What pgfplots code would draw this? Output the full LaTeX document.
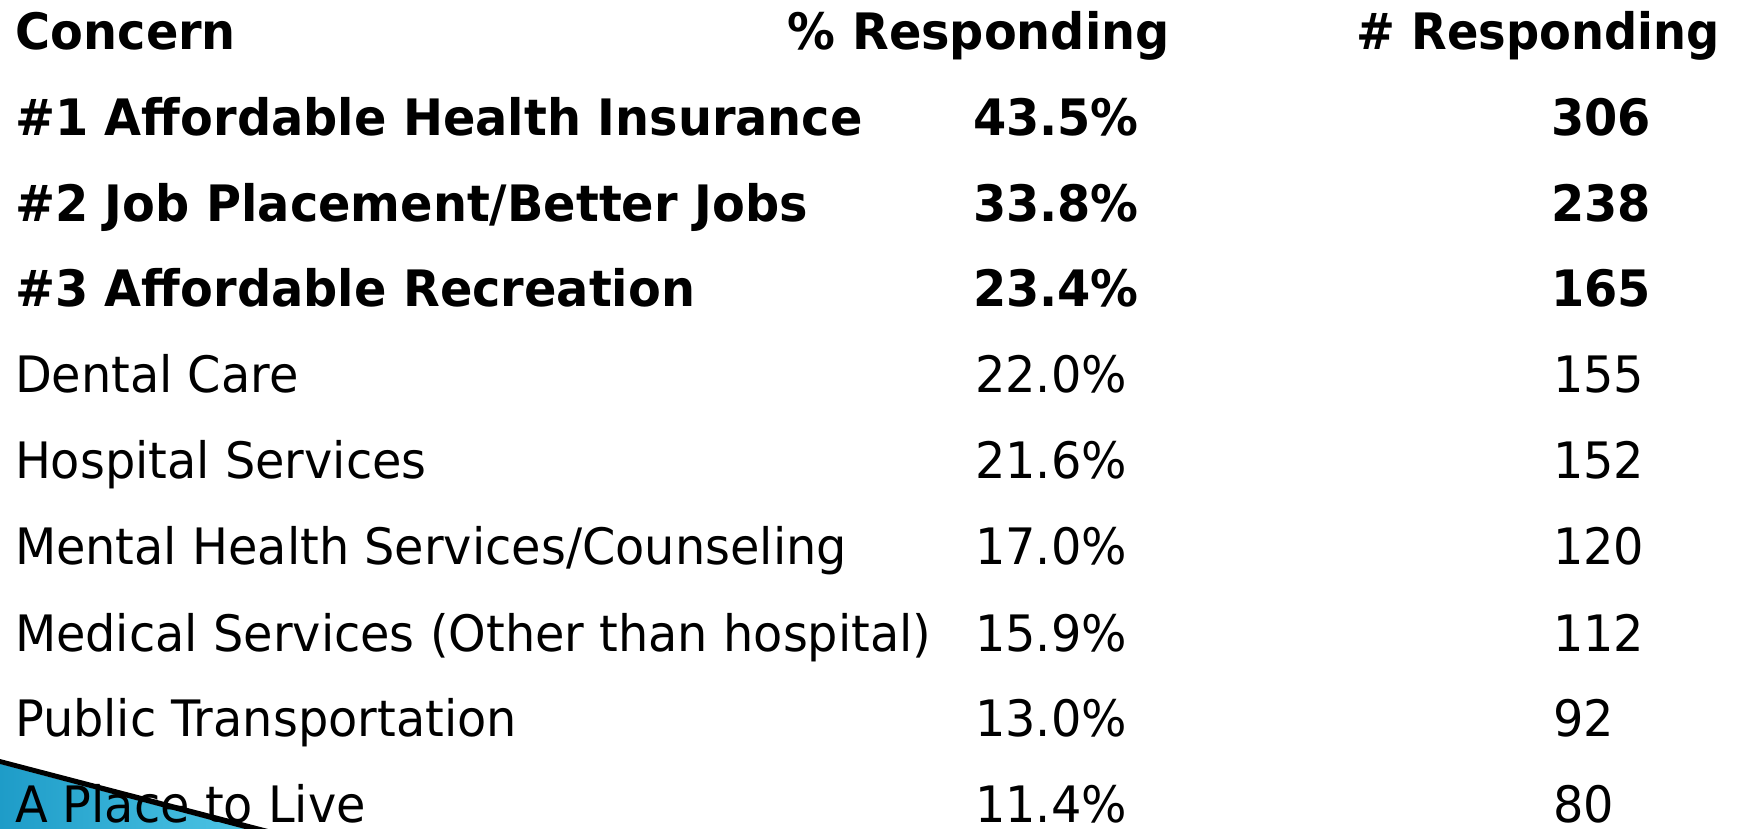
\documentclass[border=0pt]{standalone}
\usepackage{pgfplots}
\pgfplotsset{compat=1.18}
\usepackage{pgfplotstable}
\usepackage{graphicx}
\usepackage{fontspec}
\setmainfont{DejaVu Sans}

\pgfplotstableread[col sep=semicolon]{
y;concern;pct;n
136;\#1 Affordable Health Insurance;43.5;306
222;\#2 Job Placement/Better Jobs;33.8;238
307;\#3 Affordable Recreation;23.4;165
}\topthree

\pgfplotstableread[col sep=semicolon]{
y;concern;pct;n
393;Dental Care;22.0;155
479;Hospital Services;21.6;152
565;Mental Health Services/Counseling;17.0;120
651;Medical Services (Other than hospital);15.9;112
736;Public Transportation;13.0;92
822;A Place to Live;11.4;80
}\others

\definecolor{wedgeblue}{HTML}{1E9CC8}
\definecolor{wedgelight}{HTML}{4CC4E4}
\newcommand{\tall}[1]{\scalebox{1}[1.05]{#1}}

\begin{document}
\begin{tikzpicture}
\begin{axis}[
  hide axis,
  scale only axis,
  width=17.5cm, height=8.29cm,
  xmin=0, xmax=1750, ymin=0, ymax=829,
  y dir=reverse,
  clip=false,
  /pgf/number format/assume math mode=true,
  every node near coord/.append style={anchor=base west, inner sep=0pt, outer sep=0pt, text=black},
  nodes near coords align={anchor=base west},
]
% decorative wedge
\addplot[draw=none, fill=wedgeblue, left color=wedgeblue, right color=wedgelight, forget plot] coordinates {(0,764) (245,829) (0,829) (0,764)};
\addplot[draw=none, fill=black, forget plot] coordinates {(0,759) (268,829) (245,829) (0,764) (0,759)};

% top three (bold)
\addplot[draw=none, mark=none, point meta=explicit symbolic,
  nodes near coords={\tall{\pgfplotspointmeta}},
  every node near coord/.append style={font=\fontsize{13.6}{16}\bfseries}]
  table[x expr=15, y=y, meta=concern] {\topthree};
\addplot[draw=none, mark=none, point meta=explicit,
  nodes near coords={\tall{\pgfmathprintnumber[fixed,fixed zerofill,precision=1]{\pgfplotspointmeta}\%}},
  every node near coord/.append style={font=\fontsize{13.6}{16}\bfseries}]
  table[x expr=973, y=y, meta=pct] {\topthree};
\addplot[draw=none, mark=none, point meta=explicit,
  nodes near coords={\tall{\pgfmathprintnumber[fixed,precision=0]{\pgfplotspointmeta}}},
  every node near coord/.append style={font=\fontsize{13.6}{16}\bfseries}]
  table[x expr=1551, y=y, meta=n] {\topthree};

% others (regular)
\addplot[draw=none, mark=none, point meta=explicit symbolic,
  nodes near coords={\tall{\pgfplotspointmeta}},
  every node near coord/.append style={font=\fontsize{13.6}{16}\selectfont}]
  table[x expr=15, y=y, meta=concern] {\others};
\addplot[draw=none, mark=none, point meta=explicit,
  nodes near coords={\tall{\pgfmathprintnumber[fixed,fixed zerofill,precision=1]{\pgfplotspointmeta}\%}},
  every node near coord/.append style={font=\fontsize{13.6}{16}\selectfont}]
  table[x expr=975, y=y, meta=pct] {\others};
\addplot[draw=none, mark=none, point meta=explicit,
  nodes near coords={\tall{\pgfmathprintnumber[fixed,precision=0]{\pgfplotspointmeta}}},
  every node near coord/.append style={font=\fontsize{13.6}{16}\selectfont}]
  table[x expr=1553, y=y, meta=n] {\others};

% header
\node[anchor=base west, inner sep=0pt, font=\fontsize{13.6}{16}\bfseries] at (axis cs:15,50) {\tall{Concern}};
\node[anchor=base west, inner sep=0pt, font=\fontsize{13.6}{16}\bfseries] at (axis cs:787,50) {\tall{\% Responding}};
\node[anchor=base west, inner sep=0pt, font=\fontsize{13.6}{16}\bfseries] at (axis cs:1356,50) {\tall{\scalebox{0.97}[1]{\# Responding}}};
\end{axis}
\pgfresetboundingbox
\path[use as bounding box] (current axis.south west) rectangle (current axis.north east);
\end{tikzpicture}
\end{document}
